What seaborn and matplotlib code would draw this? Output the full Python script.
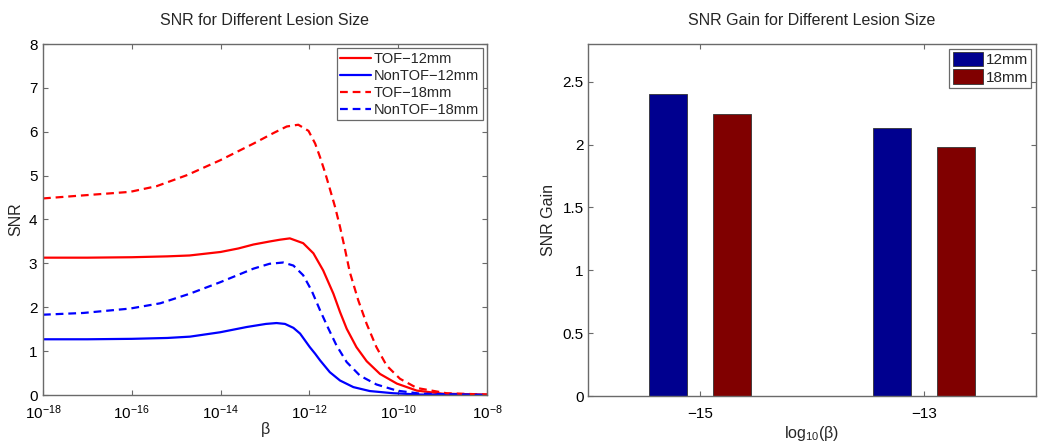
import numpy as np
import pandas as pd
import matplotlib
matplotlib.use("Agg")
import matplotlib.pyplot as plt
import seaborn as sns

# ---------------- data ----------------
# left panel: log10(beta) exponents and SNR values
tof12_exp = [-18, -17, -16, -15.2, -14.7, -14.0, -13.6, -13.26, -12.89, -12.66, -12.44, -12.14,
             -11.91, -11.69, -11.46, -11.31, -11.16, -10.94, -10.71, -10.41, -10.03, -9.58, -9.0, -8.0]
tof12_snr = [3.13, 3.13, 3.14, 3.16, 3.18, 3.26, 3.34, 3.43, 3.50, 3.54, 3.57, 3.46,
             3.23, 2.84, 2.31, 1.89, 1.51, 1.09, 0.77, 0.48, 0.26, 0.10, 0.03, 0.01]

nontof12_exp = [-18, -17, -16, -15.2, -14.69, -14.01, -13.41, -12.98, -12.74, -12.55, -12.36, -12.21,
                -11.99, -11.87, -11.76, -11.54, -11.31, -11.01, -10.64, -10.11, -9.5, -8.0]
nontof12_snr = [1.27, 1.27, 1.28, 1.30, 1.33, 1.43, 1.55, 1.62, 1.64, 1.62, 1.53, 1.40,
                1.09, 0.94, 0.79, 0.52, 0.33, 0.18, 0.09, 0.04, 0.01, 0.0]

tof18_exp = [-18, -17.09, -16.04, -15.44, -14.76, -14.01, -13.26, -12.81, -12.51, -12.25, -12.02,
             -11.87, -11.76, -11.65, -11.54, -11.42, -11.31, -11.20, -11.09, -10.90, -10.71, -10.49,
             -10.26, -9.96, -9.58, -8.91, -8.0]
tof18_snr = [4.48, 4.55, 4.63, 4.76, 5.01, 5.35, 5.73, 5.97, 6.12, 6.16, 6.02,
             5.73, 5.42, 5.08, 4.70, 4.28, 3.83, 3.33, 2.80, 2.16, 1.62, 1.09,
             0.67, 0.37, 0.16, 0.04, 0.01]

nontof18_exp = [-18, -17.09, -16.04, -15.36, -14.69, -14.01, -13.26, -12.9, -12.59, -12.36, -12.14,
                -11.95, -11.76, -11.57, -11.39, -11.16, -10.86, -10.49, -10.03, -9.5, -8.0]
nontof18_snr = [1.83, 1.87, 1.97, 2.09, 2.31, 2.57, 2.88, 2.99, 3.02, 2.95, 2.73,
                2.38, 1.93, 1.51, 1.13, 0.75, 0.44, 0.24, 0.10, 0.03, 0.0]

# right panel
gain_logbeta = [-15, -15, -13, -13]
gain_size = ["12mm", "18mm", "12mm", "18mm"]
gain_value = [2.40, 2.24, 2.13, 1.98]

# ---------------- style ----------------
sns.set_style("white")
plt.rcParams["font.family"] = ["Liberation Sans", "DejaVu Sans"]
plt.rcParams["mathtext.fontset"] = "custom"
plt.rcParams["mathtext.rm"] = "Liberation Sans"
plt.rcParams["axes.unicode_minus"] = True

SPINE = "#6a6a6a"
FS_TICK = 11
FS_LAB = 11.5
FS_LEG = 10.5

fig = plt.figure(figsize=(10.5, 4.44), dpi=100)
ax1 = fig.add_axes([43 / 1050, 1 - 395 / 444, 444 / 1050, 351 / 444])
ax2 = fig.add_axes([588 / 1050, 1 - 396 / 444, 448 / 1050, 352 / 444])

def style_axes(ax):
    for s in ax.spines.values():
        s.set_color(SPINE)
        s.set_linewidth(1.0)
        s.set_visible(True)
    ax.tick_params(direction="in", length=3.5, width=0.8, color=SPINE,
                   top=True, right=True, bottom=True, left=True,
                   labelsize=FS_TICK, labelcolor="black", pad=3)

# ---------------- left panel ----------------
series = [
    ("TOF\u221212mm", tof12_exp, tof12_snr, "#ff0000", "-"),
    ("NonTOF\u221212mm", nontof12_exp, nontof12_snr, "#0000ff", "-"),
    ("TOF\u221218mm", tof18_exp, tof18_snr, "#ff0000", (0, (3.5, 2.2))),
    ("NonTOF\u221218mm", nontof18_exp, nontof18_snr, "#0000ff", (0, (3.5, 2.2))),
]
for label, ex, sv, col, ls in series:
    beta = np.power(10.0, np.array(ex, dtype=float))
    sns.lineplot(x=beta, y=sv, ax=ax1, color=col, linestyle=ls, linewidth=1.6,
                 label=label, sort=False)

ax1.set_xscale("log")
ax1.set_xlim(1e-18, 1e-8)
ax1.set_ylim(0, 8)
ax1.set_xticks([1e-18, 1e-16, 1e-14, 1e-12, 1e-10, 1e-8])
ax1.xaxis.set_minor_locator(matplotlib.ticker.NullLocator())
ax1.set_yticks(range(0, 9))
style_axes(ax1)
ax1.tick_params(axis="x", pad=6)
ax1.tick_params(axis="y", pad=4)
ax1.set_xlabel("\u03b2", fontsize=FS_LAB, labelpad=0)
ax1.set_ylabel("SNR", fontsize=FS_LAB, labelpad=4)
ax1.set_title("SNR for Different Lesion Size", fontsize=FS_LAB, pad=14)
leg1 = ax1.legend(loc="upper right", fontsize=FS_LEG, frameon=True, fancybox=False,
                  edgecolor=SPINE, framealpha=1, handlelength=2.1, handletextpad=0.2,
                  labelspacing=0.2, borderpad=0.25, borderaxespad=0.3)
leg1.get_frame().set_linewidth(0.9)

# ---------------- right panel ----------------
df = pd.DataFrame({"logbeta": gain_logbeta, "size": gain_size, "gain": gain_value})
sns.barplot(data=df, x="logbeta", y="gain", hue="size", native_scale=True,
            palette=["#00008f", "#800000"], width=0.57, gap=0.4,
            edgecolor="#333333", linewidth=0.6, saturation=1, ax=ax2, errorbar=None)
ax2.set_xlim(-16, -12)
ax2.set_ylim(0, 2.8)
ax2.set_xticks([-15, -13])
ax2.set_xticklabels(["\u221215", "\u221213"])
ax2.set_yticks([0, 0.5, 1, 1.5, 2, 2.5])
ax2.set_yticklabels(["0", "0.5", "1", "1.5", "2", "2.5"])
style_axes(ax2)
ax2.tick_params(axis="x", pad=8)
ax2.set_xlabel("log$_{10}$(\u03b2)", fontsize=FS_LAB, labelpad=2)
ax2.set_ylabel("SNR Gain", fontsize=FS_LAB, labelpad=5)
ax2.set_title("SNR Gain for Different Lesion Size", fontsize=FS_LAB, pad=14)
h, l = ax2.get_legend_handles_labels()
leg2 = ax2.legend(h, l, loc="upper right", fontsize=11, frameon=True, fancybox=False,
                  edgecolor=SPINE, framealpha=1, handlelength=2.0, handleheight=1.1,
                  handletextpad=0.2, labelspacing=0.15, borderpad=0.2, borderaxespad=0.3,
                  title=None)
leg2.get_frame().set_linewidth(0.9)

fig.savefig("out.png", dpi=100)
